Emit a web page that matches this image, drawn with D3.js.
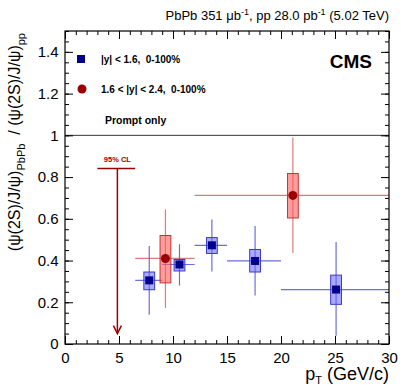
<!DOCTYPE html>
<html lang="en">
<head>
<meta charset="utf-8">
<title>psi(2S) double ratio</title>
<style>
  body { margin: 0; background: #fff; }
  svg text { font-family: "Liberation Sans", Arial, Helvetica, sans-serif; }
  .axis path { stroke: #000; }
  .axis line { stroke: #000; }
  .axis text { font-size: 15px; fill: #000; }
</style>
</head>
<body>
<div id="chart"></div>
<script src="https://d3js.org/d3.v7.min.js"></script>
<script>
// |y| < 1.6 points
var midPt = [7.8, 10.6, 13.6, 17.6, 25.1];
var midBins = [[6.5, 9], [9, 12], [12, 15], [15, 20], [20, 30]];
var midRatio = [0.305, 0.381, 0.473, 0.398, 0.261];
var midStat = [[0.14, 0.47], [0.28, 0.478], [0.347, 0.597], [0.232, 0.565], [0.04, 0.489]];
var midSyst = [[0.26, 0.345], [0.35, 0.405], [0.434, 0.51], [0.345, 0.453], [0.19, 0.33]];

// 1.6 < |y| < 2.4 points
var fwdPt = [9.3, 21.1];
var fwdBins = [[6.5, 12], [12, 30]];
var fwdRatio = [0.41, 0.712];
var fwdStat = [[0.173, 0.645], [0.436, 0.99]];
var fwdSyst = [[0.293, 0.52], [0.604, 0.817]];

// 95% CL upper limit, forward low pt bin
var limitPt = 4.85;
var limitBin = [3, 6.5];
var limitValue = 0.841;

var xTicks = [0, 5, 10, 15, 20, 25, 30];
var yTicks = [0, 0.2, 0.4, 0.6, 0.8, 1, 1.2, 1.4];

var W = 407, H = 391;
var margin = { top: 31, right: 18, bottom: 47, left: 65 };
var width = W - margin.left - margin.right,
    height = H - margin.top - margin.bottom;

var svg = d3.select("#chart").append("svg")
    .attr("width", W)
    .attr("height", H);

var g = svg.append("g")
    .attr("transform", "translate(" + margin.left + "," + margin.top + ")");

var x = d3.scaleLinear().domain([0, 30]).range([0, width]);
var y = d3.scaleLinear().domain([0, 1.5]).range([height, 0]);

var blueLine = "rgba(60,60,210,0.75)", blueFill = "rgba(100,100,255,0.55)", blueEdge = "#3a3acc", blueMark = "#00008b";
var redLine = "rgba(200,70,70,0.7)", redFill = "rgba(255,90,90,0.6)", redEdge = "#c83232", redMark = "#9b0000";
var boxHalf = 0.5;

// line at 1
g.append("line")
    .attr("x1", 0).attr("x2", width)
    .attr("y1", y(1)).attr("y2", y(1))
    .attr("stroke", "#333").attr("stroke-width", 1);

function drawSeries(pt, bins, ratio, stat, syst, line, fill, edge) {
  var idx = d3.range(pt.length);
  g.selectAll(null).data(idx).enter().append("line")
      .attr("x1", function(i) { return x(bins[i][0]); })
      .attr("x2", function(i) { return x(bins[i][1]); })
      .attr("y1", function(i) { return y(ratio[i]); })
      .attr("y2", function(i) { return y(ratio[i]); })
      .attr("stroke", line).attr("stroke-width", 1.2);
  g.selectAll(null).data(idx).enter().append("line")
      .attr("x1", function(i) { return x(pt[i]); })
      .attr("x2", function(i) { return x(pt[i]); })
      .attr("y1", function(i) { return y(stat[i][0]); })
      .attr("y2", function(i) { return y(stat[i][1]); })
      .attr("stroke", line).attr("stroke-width", 1.2);
  g.selectAll(null).data(idx).enter().append("rect")
      .attr("x", function(i) { return x(pt[i] - boxHalf); })
      .attr("width", function(i) { return x(pt[i] + boxHalf) - x(pt[i] - boxHalf); })
      .attr("y", function(i) { return y(syst[i][1]); })
      .attr("height", function(i) { return y(syst[i][0]) - y(syst[i][1]); })
      .attr("fill", fill).attr("stroke", edge).attr("stroke-width", 1);
}

drawSeries(midPt, midBins, midRatio, midStat, midSyst, blueLine, blueFill, blueEdge);
drawSeries(fwdPt, fwdBins, fwdRatio, fwdStat, fwdSyst, redLine, redFill, redEdge);

g.selectAll(".mid").data(midPt).enter().append("rect")
    .attr("class", "mid")
    .attr("x", function(d) { return x(d) - 4; })
    .attr("y", function(d, i) { return y(midRatio[i]) - 4; })
    .attr("width", 8).attr("height", 8)
    .attr("fill", blueMark);

g.selectAll(".fwd").data(fwdPt).enter().append("circle")
    .attr("class", "fwd")
    .attr("cx", function(d) { return x(d); })
    .attr("cy", function(d, i) { return y(fwdRatio[i]); })
    .attr("r", 4.5)
    .attr("fill", redMark);

// upper limit arrow
g.append("line")
    .attr("x1", x(limitBin[0])).attr("x2", x(limitBin[1]))
    .attr("y1", y(limitValue)).attr("y2", y(limitValue))
    .attr("stroke", redMark).attr("stroke-width", 1.5);
g.append("line")
    .attr("x1", x(limitPt)).attr("x2", x(limitPt))
    .attr("y1", y(limitValue)).attr("y2", y(0.05))
    .attr("stroke", redMark).attr("stroke-width", 1.5);
g.append("path")
    .attr("d", "M" + (x(limitPt) - 4) + "," + (y(0.05) - 8) + "L" + x(limitPt) + "," + y(0.05) +
               "L" + (x(limitPt) + 4) + "," + (y(0.05) - 8))
    .attr("fill", "none").attr("stroke", redMark).attr("stroke-width", 1.5);
g.append("text")
    .attr("x", x(limitPt)).attr("y", y(limitValue) - 7)
    .attr("text-anchor", "middle")
    .attr("font-size", "7.5px").attr("font-weight", "bold")
    .attr("fill", redMark)
    .text("95% CL");

// axes, ROOT style ticks inside on all sides
function axisPair(axisFn, scale, major, minorStep, domain, transform, labels) {
  var minor = d3.range(domain[0], domain[1] + 1e-9, minorStep);
  g.append("g").attr("class", "axis").attr("transform", transform)
      .call(axisFn(scale).tickValues(minor).tickSize(-4).tickFormat(""))
      .call(function(s) { s.select(".domain").remove(); });
  var a = g.append("g").attr("class", "axis").attr("transform", transform)
      .call(axisFn(scale).tickValues(major).tickSize(-8).tickPadding(5)
        .tickFormat(labels ? d3.format("") : ""));
  a.select(".domain").remove();
  return a;
}

var xa = axisPair(d3.axisBottom, x, xTicks, 1, [0, 30], "translate(0," + height + ")", true);
xa.selectAll("text").attr("dy", "0.9em");
axisPair(d3.axisTop, x, xTicks, 1, [0, 30], "translate(0,0)", false);
var ya = axisPair(d3.axisLeft, y, yTicks, 0.05, [0, 1.5], "translate(0,0)", true);
ya.selectAll("text").attr("dx", "-0.1em");
axisPair(d3.axisRight, y, yTicks, 0.05, [0, 1.5], "translate(" + width + ",0)", false);

g.append("rect")
    .attr("width", width).attr("height", height)
    .attr("fill", "none").attr("stroke", "#000").attr("stroke-width", 1.2);

// legend
g.append("rect").attr("x", 16 - 4).attr("y", 28 - 4).attr("width", 8).attr("height", 8).attr("fill", blueMark);
g.append("circle").attr("cx", 17).attr("cy", 58).attr("r", 4.5).attr("fill", redMark);
g.append("text").attr("x", 36).attr("y", 32)
    .attr("font-size", "10px").attr("font-weight", "bold")
    .attr("xml:space", "preserve")
    .text("|y| < 1.6,  0-100%");
g.append("text").attr("x", 36).attr("y", 62)
    .attr("font-size", "10px").attr("font-weight", "bold")
    .attr("xml:space", "preserve")
    .text("1.6 < |y| < 2.4,  0-100%");
g.append("text").attr("x", 40).attr("y", 93)
    .attr("font-size", "10.5px").attr("font-weight", "bold")
    .text("Prompt only");

g.append("text").attr("x", width - 17).attr("y", 37)
    .attr("text-anchor", "end")
    .attr("font-size", "19px").attr("font-weight", "bold")
    .text("CMS");

// header
var head = svg.append("text").attr("x", W - 18).attr("y", 20)
    .attr("text-anchor", "end").attr("font-size", "13px");
head.append("tspan").text("PbPb 351 \u03bcb");
head.append("tspan").attr("dy", "-5").attr("font-size", "9px").text("-1");
head.append("tspan").attr("dy", "5").text(", pp 28.0 pb");
head.append("tspan").attr("dy", "-5").attr("font-size", "9px").text("-1");
head.append("tspan").attr("dy", "5").text(" (5.02 TeV)");

// x title
var xt = svg.append("text").attr("x", W - 18).attr("y", 380)
    .attr("text-anchor", "end").attr("font-size", "18px");
xt.append("tspan").text("p");
xt.append("tspan").attr("dy", "4").attr("font-size", "11px").text("T");
xt.append("tspan").attr("dy", "-4").text(" (GeV/c)");

// y title
var yt = svg.append("text")
    .attr("transform", "translate(20," + (margin.top + 2) + ") rotate(-90)")
    .attr("text-anchor", "end").attr("font-size", "16px")
    .attr("xml:space", "preserve");
yt.append("tspan").text("(\u03c8(2S)/J/\u03c8)");
yt.append("tspan").attr("dy", "5").attr("font-size", "11px").text("PbPb");
yt.append("tspan").attr("dy", "-5").text("  / (\u03c8(2S)/J/\u03c8)");
yt.append("tspan").attr("dy", "5").attr("font-size", "11px").text("pp");
</script>
</body>
</html>
